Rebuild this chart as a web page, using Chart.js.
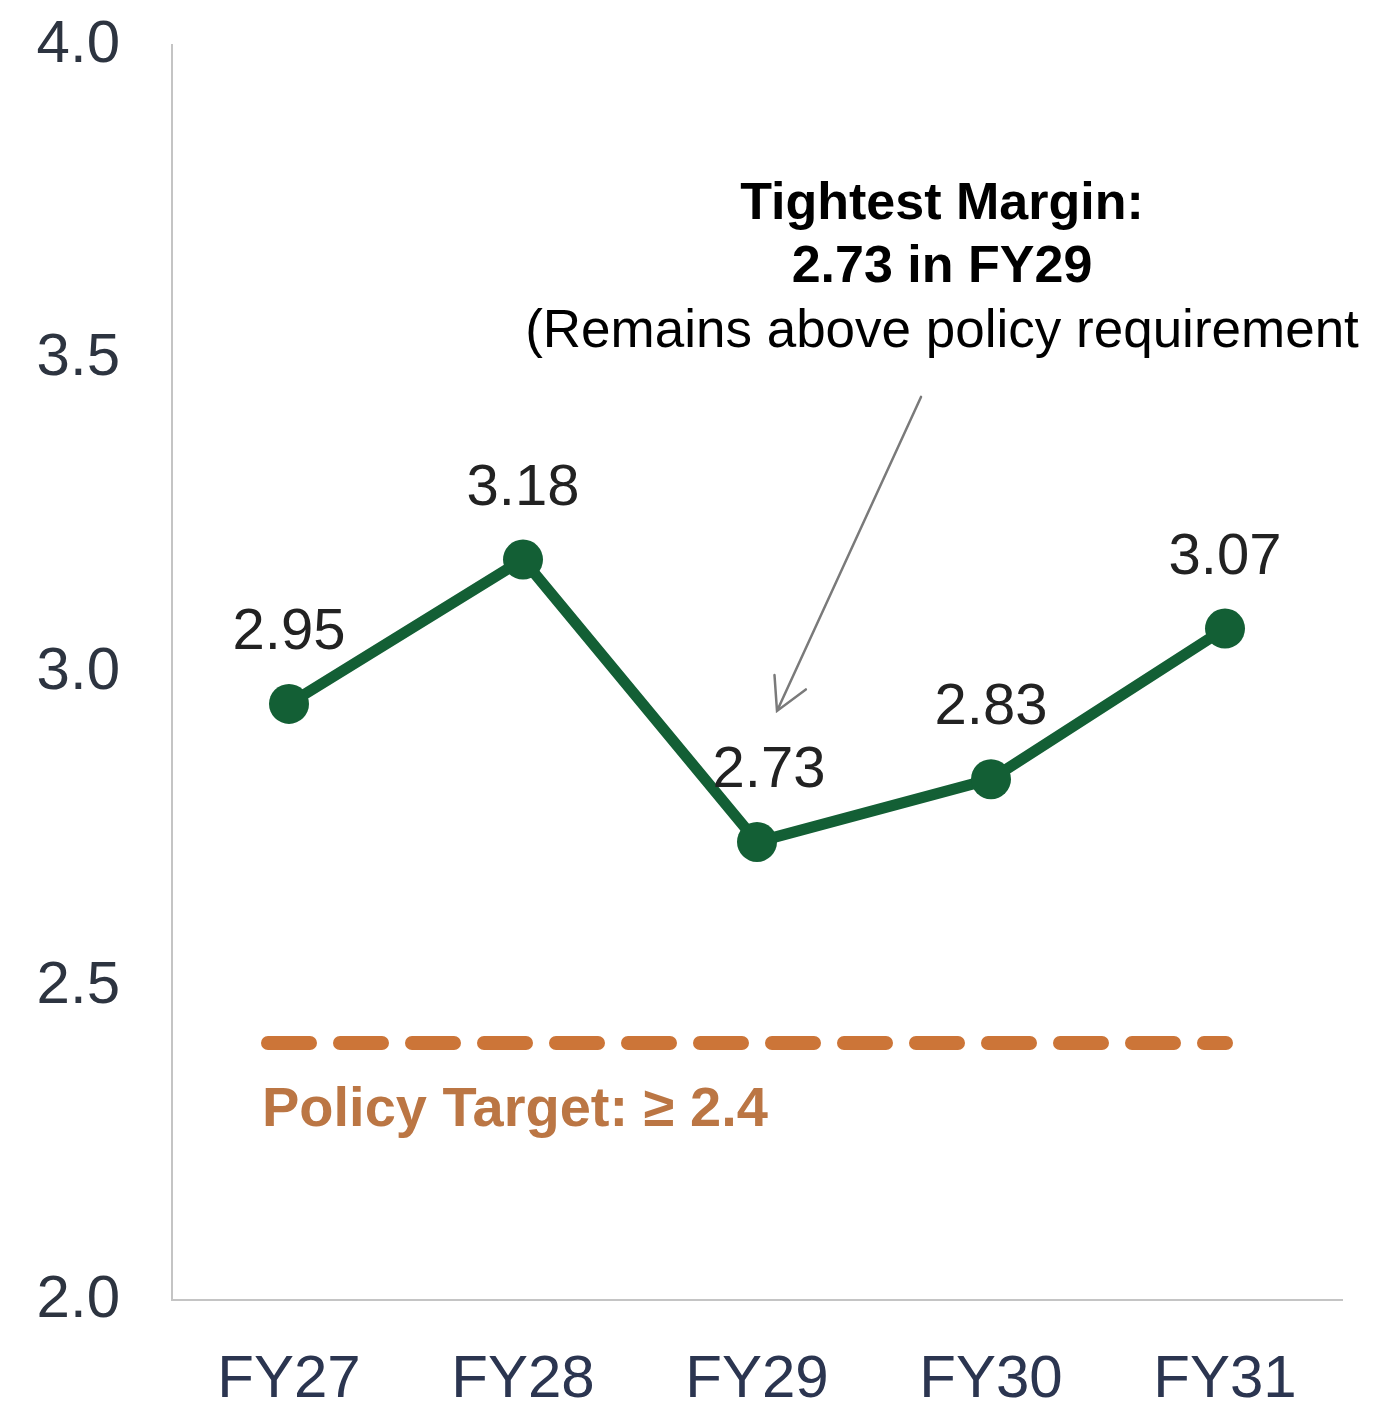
<!DOCTYPE html>
<html>
<head>
<meta charset="utf-8">
<script src="https://cdn.jsdelivr.net/npm/chart.js@4.4.1/dist/chart.umd.min.js"></script>
<style>
  html, body { margin: 0; padding: 0; background: #ffffff; }
  #wrap { width: 1378px; height: 1412px; position: relative; }
</style>
</head>
<body>
<div id="wrap"><canvas id="c" width="1378" height="1412"></canvas></div>
<script>
const categories = ["FY27", "FY28", "FY29", "FY30", "FY31"];
const coverageValues = [2.95, 3.18, 2.73, 2.83, 3.07];
const valueLabels = ["2.95", "3.18", "2.73", "2.83", "3.07"];
const policyTarget = 2.4;
const policyLabel = "Policy Target: \u2265 2.4";
const annotationLines = ["Tightest Margin:", "2.73 in FY29", "(Remains above policy requirement"];
const yMin = 2.0, yMax = 4.0, yStep = 0.5;

const FONT = '"Liberation Sans", Arial, Helvetica, sans-serif';

const overlay = {
  id: 'overlay',
  beforeDatasetsDraw(chart) {
    const ctx = chart.ctx;
    const x = chart.scales.x, y = chart.scales.y;
    const yp = y.getPixelForValue(policyTarget) - 6;
    const x0 = x.getPixelForValue(0) - 21;
    const x1 = x.getPixelForValue(categories.length - 1) + 1;
    ctx.save();
    ctx.strokeStyle = '#cc7538';
    ctx.lineWidth = 14;
    ctx.lineCap = 'round';
    ctx.setLineDash([42, 30]);
    ctx.beginPath();
    ctx.moveTo(x0, yp);
    ctx.lineTo(x1, yp);
    ctx.stroke();
    ctx.setLineDash([]);
    ctx.fillStyle = '#bb7644';
    ctx.font = 'bold 56px ' + FONT;
    ctx.textAlign = 'left';
    ctx.textBaseline = 'middle';
    ctx.fillText(policyLabel, x0 - 6, yp + 68);
    ctx.restore();
  },
  afterDatasetsDraw(chart) {
    const ctx = chart.ctx;
    const meta = chart.getDatasetMeta(0);
    ctx.save();
    ctx.fillStyle = '#222222';
    ctx.font = '58px ' + FONT;
    ctx.textAlign = 'center';
    ctx.textBaseline = 'middle';
    meta.data.forEach((pt, i) => {
      const dx = (i === 2) ? 12 : 0;
      ctx.fillText(valueLabels[i], pt.x + dx, pt.y - 71);
    });
    const p29 = meta.data[2], p30 = meta.data[3];
    const cx = (p29.x + p30.x) / 2 + 68;
    ctx.fillStyle = '#000000';
    ctx.font = 'bold 52px ' + FONT;
    ctx.fillText(annotationLines[0], cx, 205);
    ctx.fillText(annotationLines[1], cx, 268);
    ctx.font = '53px ' + FONT;
    ctx.fillText(annotationLines[2], cx, 332);
    const tx = p29.x + 20, ty = p29.y - 131;
    const sx = p29.x + 164, sy = p29.y - 445;
    ctx.strokeStyle = '#7a7a7a';
    ctx.lineWidth = 2.5;
    ctx.lineCap = 'round';
    ctx.beginPath();
    ctx.moveTo(sx, sy);
    ctx.lineTo(tx, ty);
    const ang = Math.atan2(ty - sy, tx - sx);
    const ah = 36, spread = 0.5;
    ctx.moveTo(tx - ah * Math.cos(ang - spread), ty - ah * Math.sin(ang - spread));
    ctx.lineTo(tx, ty);
    ctx.lineTo(tx - ah * Math.cos(ang + spread), ty - ah * Math.sin(ang + spread));
    ctx.stroke();
    ctx.restore();
  }
};

new Chart(document.getElementById('c'), {
  type: 'line',
  data: {
    labels: categories,
    datasets: [{
      data: coverageValues,
      borderColor: '#135f35',
      backgroundColor: '#135f35',
      borderWidth: 11,
      pointRadius: 20,
      pointHoverRadius: 20,
      pointBackgroundColor: '#135f35',
      pointBorderWidth: 0,
      tension: 0,
      fill: false
    }]
  },
  options: {
    responsive: false,
    animation: false,
    events: [],
    layout: { padding: { left: 0, right: 36, top: 45, bottom: 0 } },
    plugins: { legend: { display: false }, tooltip: { enabled: false } },
    scales: {
      x: {
        offset: true,
        grid: { display: false, drawTicks: false },
        border: { display: true, color: '#c4c4c4', width: 2 },
        ticks: { color: '#2b3550', font: { family: FONT, size: 60 }, padding: 44, maxRotation: 0 },
        afterFit(s) { s.height = 112; s.paddingLeft = 0; s.paddingRight = 0; }
      },
      y: {
        min: yMin, max: yMax,
        grid: { display: false, drawTicks: false },
        border: { display: true, color: '#c4c4c4', width: 2 },
        ticks: {
          stepSize: yStep,
          color: '#2d3440',
          font: { family: FONT, size: 60 },
          padding: 52,
          callback: v => Number(v).toFixed(1)
        },
        afterFit(s) { s.width = 172; s.paddingTop = 0; s.paddingBottom = 0; }
      }
    }
  },
  plugins: [overlay]
});
</script>
</body>
</html>
